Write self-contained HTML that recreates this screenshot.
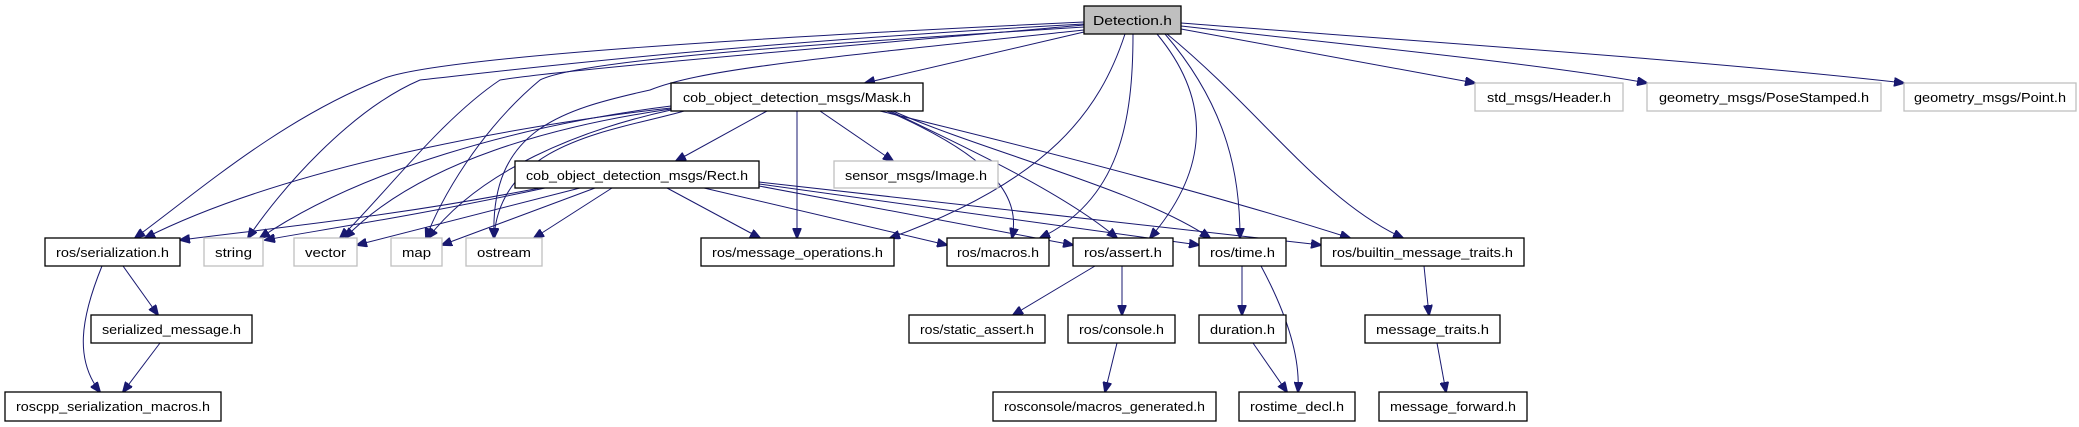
<!DOCTYPE html>
<html><head><meta charset="utf-8"><style>
html,body{margin:0;padding:0;background:#fff;}
svg{display:block;}
text{font-family:"Liberation Sans",sans-serif;font-size:12.5px;fill:#000;}
.b{fill:#fff;stroke:#000;stroke-width:1.3;}
.g{fill:#fff;stroke:#bfbfbf;stroke-width:1.3;}
.d{fill:#bfbfbf;stroke:#000;stroke-width:1.3;}
path{fill:none;stroke:#191970;stroke-width:1;}
</style></head><body>
<svg width="2079" height="427" viewBox="0 0 2079 427" xmlns="http://www.w3.org/2000/svg">
<defs><marker id="a" markerWidth="11" markerHeight="9" refX="10" refY="4.5" orient="auto" markerUnits="userSpaceOnUse"><polygon points="0,0 11,4.5 0,9" fill="#191970" stroke="#191970"/></marker></defs>
<g marker-end="url(#a)">
<!-- Detection edges -->
<path d="M1084,22 C700,40 420,60 380,80 C280,120 200,190 135,238"/>
<path d="M1084,24 C700,45 470,75 420,80 C350,110 280,190 248,238"/>
<path d="M1084,25 C800,50 560,70 500,80 C440,120 380,200 340,238"/>
<path d="M1084,27 C800,45 580,60 540,80 C480,130 440,200 426,238"/>
<path d="M1084,30 C800,60 700,70 650,90 C560,110 490,130 494,238"/>
<path d="M1125,34 C1100,110 1050,180 890,238"/>
<path d="M1133,34 C1133,120 1120,200 1040,238"/>
<path d="M1157,34 C1220,110 1200,180 1150,238"/>
<path d="M1165,34 C1230,110 1240,180 1240,238"/>
<path d="M1167,34 C1260,110 1320,200 1403,238"/>
<path d="M1181,29 C1300,50 1400,70 1475,83"/>
<path d="M1181,26 C1350,45 1550,65 1647,83"/>
<path d="M1181,23 C1400,40 1700,60 1904,83"/>
<path d="M1084,32 L865,83"/>
<!-- Mask edges -->
<path d="M767,111 L676,161"/>
<path d="M671,108 C560,120 300,160 145,238"/>
<path d="M671,106 C520,125 360,170 260,238"/>
<path d="M671,109 C560,125 420,160 345,238"/>
<path d="M671,110 C580,130 480,170 428,238"/>
<path d="M684,111 C620,130 500,140 494,238"/>
<path d="M797,111 L797,238"/>
<path d="M820,111 L893,161"/>
<path d="M887,111 C1000,160 1020,200 1012,238"/>
<path d="M890,111 C950,140 1060,190 1117,238"/>
<path d="M893,111 C980,150 1140,190 1210,238"/>
<path d="M880,111 C1000,140 1200,190 1350,238"/>
<!-- Rect edges -->
<path d="M540,188 C400,215 300,225 180,240"/>
<path d="M545,188 C420,215 320,230 265,240"/>
<path d="M580,188 L357,245"/>
<path d="M595,188 L442,245"/>
<path d="M612,188 L534,238"/>
<path d="M667,188 L760,238"/>
<path d="M704,188 L947,245"/>
<path d="M759,186 L1073,245"/>
<path d="M759,184 L1199,245"/>
<path d="M759,182 L1321,245"/>
<!-- lower -->
<path d="M102,266 C80,320 75,360 100,392"/>
<path d="M123,266 L158,315"/>
<path d="M160,343 L123,392"/>
<path d="M1095,266 L1013,315"/>
<path d="M1122,266 L1122,315"/>
<path d="M1117,343 L1105,392"/>
<path d="M1242,266 L1242,315"/>
<path d="M1261,266 C1290,320 1300,360 1298,392"/>
<path d="M1253,343 L1287,392"/>
<path d="M1424,266 L1429,315"/>
<path d="M1437,343 L1446,392"/>
</g>
<!-- nodes -->
<rect class="d" x="1084" y="6" width="97" height="28"/><text x="1132.5" y="25" text-anchor="middle" textLength="79" lengthAdjust="spacingAndGlyphs">Detection.h</text>
<rect class="b" x="671" y="83" width="252" height="28"/><text x="797" y="102" text-anchor="middle" textLength="228" lengthAdjust="spacingAndGlyphs">cob_object_detection_msgs/Mask.h</text>
<rect class="g" x="1475" y="83" width="148" height="28"/><text x="1549" y="102" text-anchor="middle" textLength="124" lengthAdjust="spacingAndGlyphs">std_msgs/Header.h</text>
<rect class="g" x="1647" y="83" width="234" height="28"/><text x="1764" y="102" text-anchor="middle" textLength="210" lengthAdjust="spacingAndGlyphs">geometry_msgs/PoseStamped.h</text>
<rect class="g" x="1904" y="83" width="172" height="28"/><text x="1990" y="102" text-anchor="middle" textLength="152" lengthAdjust="spacingAndGlyphs">geometry_msgs/Point.h</text>
<rect class="b" x="515" y="161" width="244" height="27"/><text x="637" y="180" text-anchor="middle" textLength="222" lengthAdjust="spacingAndGlyphs">cob_object_detection_msgs/Rect.h</text>
<rect class="g" x="834" y="161" width="164" height="27"/><text x="916" y="180" text-anchor="middle" textLength="142" lengthAdjust="spacingAndGlyphs">sensor_msgs/Image.h</text>
<rect class="b" x="45" y="238" width="135" height="28"/><text x="112.5" y="257" text-anchor="middle" textLength="113" lengthAdjust="spacingAndGlyphs">ros/serialization.h</text>
<rect class="g" x="204" y="238" width="59" height="28"/><text x="233.5" y="257" text-anchor="middle" textLength="37" lengthAdjust="spacingAndGlyphs">string</text>
<rect class="g" x="294" y="238" width="63" height="28"/><text x="325.5" y="257" text-anchor="middle" textLength="41" lengthAdjust="spacingAndGlyphs">vector</text>
<rect class="g" x="391" y="238" width="51" height="28"/><text x="416.5" y="257" text-anchor="middle" textLength="29" lengthAdjust="spacingAndGlyphs">map</text>
<rect class="g" x="466" y="238" width="76" height="28"/><text x="504" y="257" text-anchor="middle" textLength="54" lengthAdjust="spacingAndGlyphs">ostream</text>
<rect class="b" x="701" y="238" width="193" height="28"/><text x="797.5" y="257" text-anchor="middle" textLength="171" lengthAdjust="spacingAndGlyphs">ros/message_operations.h</text>
<rect class="b" x="947" y="238" width="102" height="28"/><text x="998" y="257" text-anchor="middle" textLength="82" lengthAdjust="spacingAndGlyphs">ros/macros.h</text>
<rect class="b" x="1073" y="238" width="100" height="28"/><text x="1123" y="257" text-anchor="middle" textLength="78" lengthAdjust="spacingAndGlyphs">ros/assert.h</text>
<rect class="b" x="1199" y="238" width="87" height="28"/><text x="1242.5" y="257" text-anchor="middle" textLength="65" lengthAdjust="spacingAndGlyphs">ros/time.h</text>
<rect class="b" x="1321" y="238" width="203" height="28"/><text x="1422.5" y="257" text-anchor="middle" textLength="181" lengthAdjust="spacingAndGlyphs">ros/builtin_message_traits.h</text>
<rect class="b" x="91" y="315" width="161" height="28"/><text x="171.5" y="334" text-anchor="middle" textLength="139" lengthAdjust="spacingAndGlyphs">serialized_message.h</text>
<rect class="b" x="909" y="315" width="136" height="28"/><text x="977" y="334" text-anchor="middle" textLength="114" lengthAdjust="spacingAndGlyphs">ros/static_assert.h</text>
<rect class="b" x="1068" y="315" width="107" height="28"/><text x="1121.5" y="334" text-anchor="middle" textLength="85" lengthAdjust="spacingAndGlyphs">ros/console.h</text>
<rect class="b" x="1199" y="315" width="87" height="28"/><text x="1242.5" y="334" text-anchor="middle" textLength="65" lengthAdjust="spacingAndGlyphs">duration.h</text>
<rect class="b" x="1365" y="315" width="135" height="28"/><text x="1432.5" y="334" text-anchor="middle" textLength="113" lengthAdjust="spacingAndGlyphs">message_traits.h</text>
<rect class="b" x="5" y="392" width="216" height="29"/><text x="113" y="411" text-anchor="middle" textLength="194" lengthAdjust="spacingAndGlyphs">roscpp_serialization_macros.h</text>
<rect class="b" x="993" y="392" width="223" height="29"/><text x="1104.5" y="411" text-anchor="middle" textLength="201" lengthAdjust="spacingAndGlyphs">rosconsole/macros_generated.h</text>
<rect class="b" x="1239" y="392" width="116" height="29"/><text x="1297" y="411" text-anchor="middle" textLength="94" lengthAdjust="spacingAndGlyphs">rostime_decl.h</text>
<rect class="b" x="1379" y="392" width="148" height="29"/><text x="1453" y="411" text-anchor="middle" textLength="126" lengthAdjust="spacingAndGlyphs">message_forward.h</text>
</svg>
</body></html>
